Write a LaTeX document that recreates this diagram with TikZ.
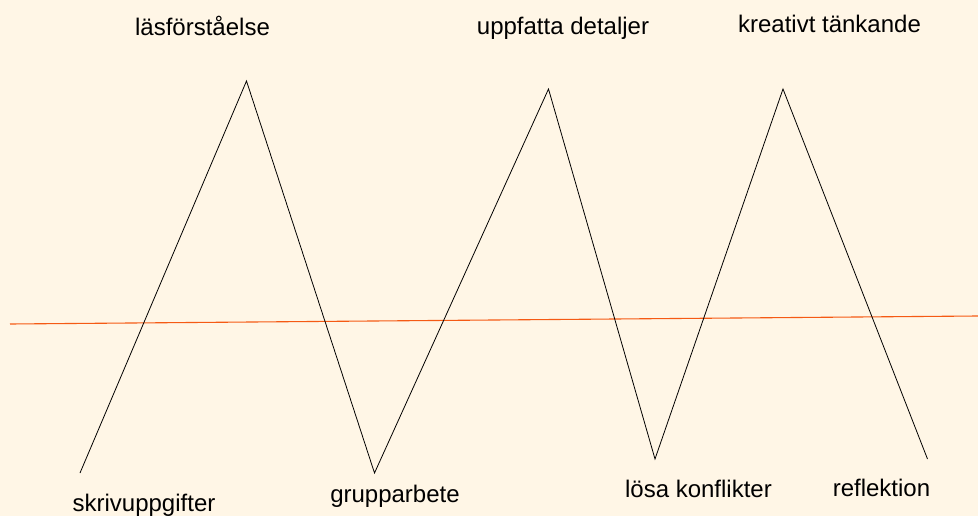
\documentclass[tikz,border=0pt]{standalone}
\usepackage{fontspec}
\setmainfont{Liberation Sans}
\definecolor{bgcream}{RGB}{255,246,230}
\definecolor{axisorange}{RGB}{245,90,20}
\begin{document}
\begin{tikzpicture}[x=1pt,y=-1pt,
  lbl/.style={anchor=base,inner sep=0pt,font=\fontsize{24pt}{28pt}\selectfont},
  zig/.style={draw=black,line width=0.8pt,line join=miter},
  axisline/.style={draw=axisorange,line width=1.1pt}]
\fill[bgcream] (0,0) rectangle (978,516);
\useasboundingbox (0,0) rectangle (978,516);
% zigzag points
\coordinate (s0) at (80,473);
\coordinate (p1) at (246.5,81);
\coordinate (v1) at (374.5,473);
\coordinate (p2) at (548.5,89);
\coordinate (v2) at (655,459);
\coordinate (p3) at (783,89);
\coordinate (e0) at (927.5,459);
\coordinate (al) at (10,324);
\coordinate (ar) at (978,316);
\draw[axisline] (al) -- (ar);
\draw[zig] (s0) -- (p1) -- (v1) -- (p2) -- (v2) -- (p3) -- (e0);
% labels
\node[lbl] (t1) at (202.5,36) {läsförståelse};
\node[lbl] (t2) at (563,35) {uppfatta detaljer};
\node[lbl] (t3) at (829.5,33) {kreativt tänkande};
\node[lbl] (b1) at (144,511) {skrivuppgifter};
\node[lbl] (b2) at (395,502) {grupparbete};
\node[lbl] (b3) at (698.5,497) {lösa konflikter};
\node[lbl] (b4) at (881.5,496) {reflektion};
\end{tikzpicture}
\end{document}
